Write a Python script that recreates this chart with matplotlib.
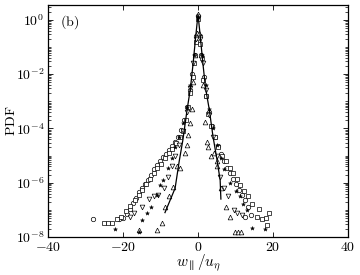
import matplotlib
matplotlib.use("Agg")
import matplotlib.pyplot as plt
import numpy as np
from matplotlib.ticker import LogLocator, FixedLocator, NullFormatter

plt.rcParams['font.family'] = 'cmr10'
plt.rcParams['mathtext.fontset'] = 'cm'
plt.rcParams['axes.formatter.use_mathtext'] = True
plt.rcParams['font.size'] = 10

# values: x = w_par/u_eta, y = log10(PDF)
line_x = [-8.8, -7.0, -6.1, -5.0, -4.0, -3.0, -2.0, -1.3, -0.6, 0.0,
          0.6, 1.3, 2.0, 3.0, 4.0, 5.0, 5.9, 6.1]
line_log = [-7.1, -6.5, -6.2, -5.2, -4.4, -3.4, -2.5, -1.6, -0.6, 0.2,
            -0.6, -1.6, -2.5, -3.3, -4.3, -5.1, -5.9, -6.6]

circ_x = [-28.0, -21.0, -20.0, -19.0, -18.2, -17.4, -16.6, -15.8, -15.0, -14.2,
          -13.4, -12.6, -11.8, -11.0, -10.2, -9.4, -8.6, -7.8, -7.0, -6.2,
          -5.4, -4.6, -3.8, -3.0, -2.2, -1.5, -0.9, -0.4, 0.0,
          0.4, 0.9, 1.5, 2.2, 3.0, 3.8, 4.6, 5.4, 6.2, 7.0, 7.8, 8.6,
          9.4, 10.2, 11.0, 11.8, 12.6, 13.4, 14.0, 12.5]
circ_log = [-7.33, -7.35, -7.3, -7.15, -6.95, -6.75, -6.55, -6.35, -6.2, -6.05,
            -5.9, -5.7, -5.5, -5.35, -5.2, -5.05, -4.95, -4.8, -4.65, -4.5,
            -4.3, -4.05, -3.7, -3.2, -2.6, -2.0, -1.3, -0.6, 0.15,
            -0.6, -1.3, -2.1, -2.8, -3.4, -3.9, -4.3, -4.65, -4.95, -5.2, -5.45, -5.65,
            -5.85, -6.05, -6.25, -6.45, -6.65, -6.9, -7.2, -7.25]

sq_x = [-25.0, -24.0, -23.0, -21.5, -20.5, -19.2, -18.0, -16.8, -15.8, -14.8,
        -13.8, -12.8, -11.8, -10.8, -9.8, -8.8, -7.8, -6.8, -5.8, -4.8,
        -4.0, -3.2, -2.6, -2.0, -1.4, -1.0, -0.5, 0.0,
        0.5, 1.0, 1.4, 2.0, 2.7, 3.5, 4.5, 5.4, 6.4, 7.4, 8.5, 9.4,
        10.3, 11.2, 12.2, 13.3, 14.4, 15.6, 16.2, 17.0, 18.0, 18.8, 18.3]
sq_log = [-7.5, -7.5, -7.5, -7.35, -7.25, -7.05, -6.85, -6.65, -6.45, -6.25,
          -6.05, -5.85, -5.65, -5.45, -5.3, -5.1, -4.9, -4.75, -4.55, -4.3,
          -4.1, -3.7, -3.2, -2.7, -2.1, -1.6, -0.8, 0.05,
          -0.9, -1.4, -2.2, -2.8, -3.45, -3.9, -4.3, -4.7, -5.0, -5.2, -5.45, -5.65,
          -5.85, -6.07, -6.3, -6.5, -6.8, -7.25, -6.95, -7.35, -7.3, -7.1, -7.55]

dtri_x = [-18.1, -17.0, -15.0, -13.0, -11.7, -10.7, -9.1, -8.0, -7.0, -6.0,
          -5.0, -4.0, -3.0, -2.0, -1.2, -0.5, 0.0,
          0.5, 1.2, 2.0, 3.0, 4.0, 5.0, 5.9, 7.0, 8.0, 9.6, 10.5, 11.6]
dtri_log = [-7.25, -7.1, -6.9, -6.6, -6.5, -6.45, -6.2, -5.8, -5.4, -5.0,
            -4.6, -4.1, -3.4, -2.5, -1.6, -0.7, 0.1,
            -0.7, -1.6, -2.6, -3.5, -4.3, -5.0, -5.8, -6.2, -6.5, -7.0, -7.1, -7.2]

star_x = [-22.0, -15.7, -15.0, -13.5, -12.4, -11.0, -10.0, -9.3, -8.0, -7.0,
          -6.0, -5.0, -4.0, -3.0, -2.0, -1.0, 0.0,
          1.0, 2.0, 3.0, 4.0, 5.0, 6.0, 7.0, 8.5, 10.0, 11.2, 12.0, 13.0, 14.3, 17.9]
star_log = [-7.7, -7.8, -7.37, -7.1, -6.9, -6.45, -6.1, -5.9, -5.46, -5.1,
            -4.7, -4.3, -3.8, -3.2, -2.4, -1.3, 0.1,
            -1.3, -2.4, -3.3, -4.0, -4.6, -5.1, -5.5, -6.0, -6.3, -6.5, -6.8, -7.0, -7.67, -7.7]

utri_x = [-15.7, -11.0, -9.7, -8.8, -7.8, -6.7, -5.7, -4.8, -3.5, -3.0,
          -2.7, -2.1, -1.7, -1.2, -0.7, -0.3, 0.0,
          0.3, 0.7, 1.2, 1.9, 2.3, 2.7, 3.5, 4.2, 5.0, 5.0, 6.0, 7.5, 8.5,
          9.9, 10.6, 11.4]
utri_log = [-7.74, -7.74, -7.5, -6.9, -6.5, -6.15, -5.4, -5.47, -4.9, -4.6,
            -4.25, -3.8, -3.3, -2.3, -1.3, -0.5, 0.2,
            -0.5, -1.3, -2.4, -3.75, -4.5, -4.7, -5.0, -4.9, -5.2, -5.4, -6.2, -6.9, -7.25,
            -7.8, -7.8, -7.8]

fig = plt.figure(figsize=(3.6, 2.75), dpi=100)
ax = fig.add_axes([0.133, 0.138, 0.834, 0.844])

mk = dict(linestyle='none', mfc='white', mec='black', mew=0.5)
ax.plot(circ_x, 10 ** np.array(circ_log), marker='o', ms=3.2, **mk)
ax.plot(sq_x, 10 ** np.array(sq_log), marker='s', ms=3.4, **mk)
ax.plot(dtri_x, 10 ** np.array(dtri_log), marker='v', ms=3.4, **mk)
ax.plot(utri_x, 10 ** np.array(utri_log), marker='^', ms=3.4, **mk)
ax.plot(star_x, 10 ** np.array(star_log), marker='*', ms=3.0, linestyle='none',
        color='black', mew=0.3)
ax.plot(line_x, 10 ** np.array(line_log), color='black', lw=0.9)

ax.set_yscale('log')
ax.set_xlim(-40, 40)
ax.set_ylim(1e-8, 10 ** 0.55)
ax.xaxis.set_major_locator(FixedLocator([-40, -20, 0, 20, 40]))
ax.set_xticklabels([r'$-40$', r'$-20$', r'$0$', r'$20$', r'$40$'])
ax.yaxis.set_major_locator(FixedLocator([1e-8, 1e-6, 1e-4, 1e-2, 1e0]))
ax.set_yticklabels([r'$10^{-8}$', r'$10^{-6}$', r'$10^{-4}$', r'$10^{-2}$', r'$10^{0}$'])
ax.yaxis.set_minor_locator(LogLocator(base=10, subs=np.arange(1, 10), numticks=30))
ax.yaxis.set_minor_formatter(NullFormatter())
ax.tick_params(which='both', direction='in', top=True, right=True, labelsize=10)
ax.tick_params(which='major', length=3.5, width=0.6, pad=2.5)
ax.tick_params(which='minor', length=2, width=0.5)
for s in ax.spines.values():
    s.set_linewidth(0.9)

ax.set_xlabel(r'$w_{\parallel}/u_{\eta}$', fontsize=11)
ax.xaxis.set_label_coords(0.5, -0.068)
ax.set_ylabel(r'$\mathrm{PDF}$', fontsize=10)
ax.yaxis.set_label_coords(-0.1, 0.5)
ax.text(0.04, 0.925, r'$\mathrm{(b)}$', transform=ax.transAxes, fontsize=10, va='center')

fig.savefig('out.png', dpi=100)
